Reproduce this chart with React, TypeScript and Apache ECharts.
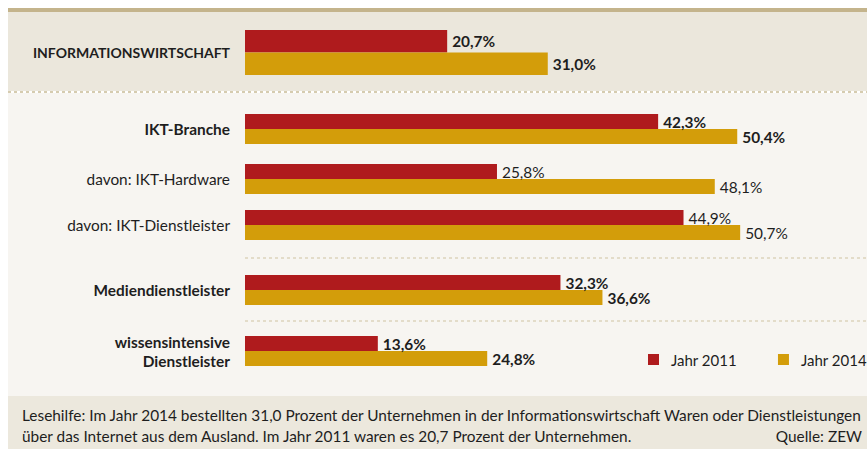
import React, { useEffect, useRef } from "react";
import * as echarts from "echarts";

const categories = [
  "INFORMATIONSWIRTSCHAFT",
  "IKT-Branche",
  "davon: IKT-Hardware",
  "davon: IKT-Dienstleister",
  "Mediendienstleister",
  "wissensintensive\nDienstleister",
];
const values2011 = [20.7, 42.3, 25.8, 44.9, 32.3, 13.6];
const values2014 = [31.0, 50.4, 48.1, 50.7, 36.6, 24.8];
const boldRows = [true, true, false, false, true, true];
const seriesNames = ["Jahr 2011", "Jahr 2014"];
const footerLine1 =
  "Lesehilfe: Im Jahr 2014 bestellten 31,0 Prozent der Unternehmen in der Informationswirtschaft Waren oder Dienstleistungen";
const footerLine2 = "über das Internet aus dem Ausland. Im Jahr 2011 waren es 20,7 Prozent der Unternehmen.";
const sourceText = "Quelle: ZEW";

// layout (row tops and bar thickness)
const rowTops = [30, 114, 164, 210, 275, 336];
const rowBar = [22.5, 15, 15, 15, 15, 15];

const RED = "#AF1B1D";
const GOLD = "#D39D0A";
const FONT = "Lato, 'Noto Sans', sans-serif";
const TXT = "#1e1e1e";

export default function App() {
  const ref = useRef<HTMLDivElement>(null);
  useEffect(() => {
    document.body.style.margin = "0";
    const chart = echarts.init(ref.current!, null, { renderer: "svg" });
    const fmt = (p: any) => p.value.toFixed(1).replace(".", ",") + "%";
    const grids: any[] = [];
    const xAxes: any[] = [];
    const yAxes: any[] = [];
    const series: any[] = [];
    categories.forEach((cat, i) => {
      grids.push({ left: 245, width: 586, top: rowTops[i], height: rowBar[i] * 2 });
      xAxes.push({ type: "value", gridIndex: i, min: 0, max: 60, show: false });
      yAxes.push({
        type: "category",
        gridIndex: i,
        inverse: true,
        data: [cat],
        axisLine: { show: false },
        axisTick: { show: false },
        splitLine: { show: false },
        axisLabel: {
          margin: 15,
          fontFamily: FONT,
          fontSize: i === 0 ? 14 : 15.4,
          fontWeight: boldRows[i] ? "bold" : "normal",
          color: TXT,
          lineHeight: 19,
          align: "right",
        },
      });
      [values2011, values2014].forEach((vals, s) => {
        series.push({
          type: "bar",
          name: seriesNames[s],
          xAxisIndex: i,
          yAxisIndex: i,
          data: [vals[i]],
          barWidth: rowBar[i],
          barGap: "0%",
          itemStyle: { color: s === 0 ? RED : GOLD },
          label: {
            show: true,
            position: "right",
            distance: 5,
            formatter: fmt,
            fontFamily: FONT,
            fontSize: 15.4,
            fontWeight: boldRows[i] ? "bold" : "normal",
            color: TXT,
          },
        });
      });
    });

    chart.setOption({
      animation: false,
      backgroundColor: "#ffffff",
      grid: grids,
      xAxis: xAxes,
      yAxis: yAxes,
      series,
      legend: {
        data: seriesNames,
        left: 648,
        top: 352,
        width: 300,
        padding: 0,
        orient: "horizontal",
        icon: "rect",
        itemWidth: 11,
        itemHeight: 11,
        itemGap: 41,
        selectedMode: false,
        textStyle: { fontFamily: FONT, fontSize: 15, color: TXT, padding: [0, 0, 0, 7] },
      },
      graphic: [
        { type: "rect", z: -10, silent: true, shape: { x: 8, y: 8, width: 859, height: 4 }, style: { fill: "#C4B48C" } },
        { type: "rect", z: -10, silent: true, shape: { x: 8, y: 12, width: 859, height: 79 }, style: { fill: "#EBE7DC" } },
        { type: "rect", z: -10, silent: true, shape: { x: 8, y: 93, width: 859, height: 303 }, style: { fill: "#F7F5F1" } },
        { type: "rect", z: -10, silent: true, shape: { x: 8, y: 396, width: 859, height: 53 }, style: { fill: "#ECE8DD" } },
        { type: "line", z: -5, silent: true, shape: { x1: 8, y1: 92, x2: 867, y2: 92 }, style: { stroke: "#D6CCB0", lineWidth: 2, lineDash: [3, 3] } },
        { type: "line", z: -5, silent: true, shape: { x1: 245, y1: 258, x2: 867, y2: 258 }, style: { stroke: "#DDD3BC", lineWidth: 1.5, lineDash: [3, 3] } },
        { type: "line", z: -5, silent: true, shape: { x1: 245, y1: 321, x2: 867, y2: 321 }, style: { stroke: "#DDD3BC", lineWidth: 1.5, lineDash: [3, 3] } },
        { type: "text", x: 22, y: 415, style: { text: footerLine1, fontFamily: FONT, fontSize: 15.4, fill: TXT, verticalAlign: "middle" } },
        { type: "text", x: 22, y: 436, style: { text: footerLine2, fontFamily: FONT, fontSize: 15.4, fill: TXT, verticalAlign: "middle" } },
        { type: "text", x: 862, y: 436, style: { text: sourceText, fontFamily: FONT, fontSize: 15.4, fill: TXT, align: "right", verticalAlign: "middle" } },
      ],
    });
    return () => chart.dispose();
  }, []);
  return <div ref={ref} style={{ width: 867, height: 453 }} />;
}
